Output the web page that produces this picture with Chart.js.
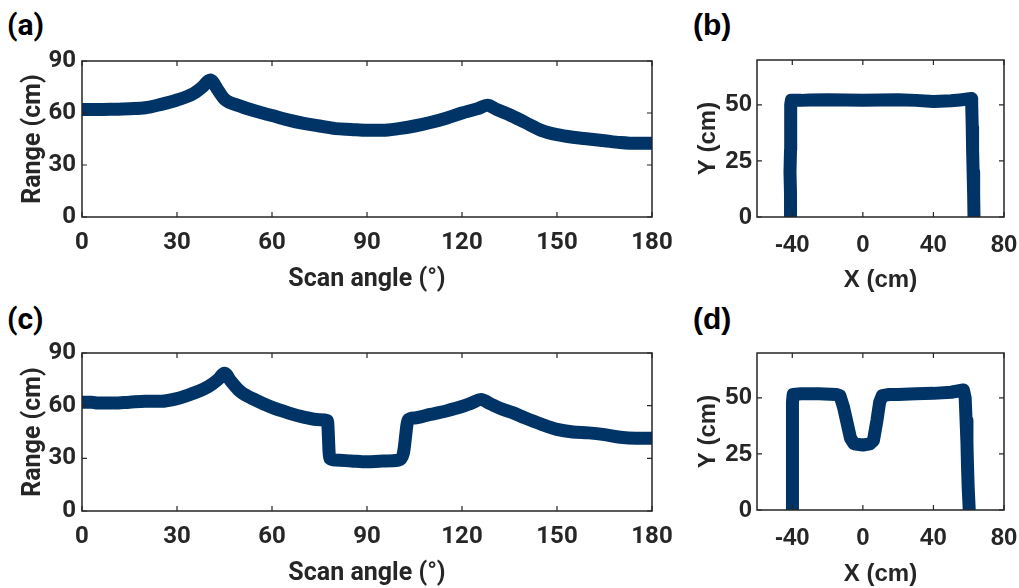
<!DOCTYPE html>
<html>
<head>
<meta charset="utf-8">
<script src="https://cdn.jsdelivr.net/npm/chart.js@4/dist/chart.umd.min.js"></script>
<style>
  html, body { margin: 0; padding: 0; background: #fff; }
  body { width: 1019px; height: 588px; position: relative; overflow: hidden; }
  .panel { position: absolute; }
  .tag { position: absolute; font-weight: bold; color: #000; font-size: 30px; line-height: 1; }
  .tagL { font-family: Roboto, sans-serif; }
  .tagR { font-family: "Liberation Sans", Arial, sans-serif; }
</style>
</head>
<body>
<div class="tag tagL" style="left:7px; top:10px;">(a)</div>
<div class="tag tagR" style="left:693px; top:10px;">(b)</div>
<div class="tag tagL" style="left:7px; top:304px;">(c)</div>
<div class="tag tagR" style="left:693px; top:304px;">(d)</div>

<!-- canvases are wider than their slot so the edge tick labels get room; body clips the overflow -->
<div class="panel" style="left:0; top:0; width:690px; height:294px;"><canvas id="chartA"></canvas></div>
<div class="panel" style="left:680px; top:0; width:360px; height:294px;"><canvas id="chartB"></canvas></div>
<div class="panel" style="left:0; top:294px; width:690px; height:294px;"><canvas id="chartC"></canvas></div>
<div class="panel" style="left:680px; top:294px; width:360px; height:294px;"><canvas id="chartD"></canvas></div>

<script>
// (a) range vs scan angle, empty scene
const angleA = [0, 5, 10, 15, 20, 25, 30, 35, 38, 40.5, 43, 45, 50, 55, 60, 65, 70, 75, 80, 85, 90,
                95, 100, 105, 110, 115, 120, 125, 128, 131, 135, 140, 145, 150, 155, 160, 165, 170, 175, 180];
const rangeA = [62, 62, 62.2, 62.5, 63, 65, 67.5, 71, 75, 79, 73, 68, 64, 61, 58.5, 56, 54, 52.5, 51, 50.5, 50,
                50, 51, 52.5, 54.5, 57, 60, 62.5, 64.5, 62, 59, 54.5, 50, 47.5, 46, 45, 44, 43, 42.5, 42.5];

// (c) range vs scan angle, with object in the middle
const angleC = [0, 3, 5, 10, 15, 20, 25, 30, 35, 40, 43, 45, 47, 50, 55, 60, 65, 70, 75, 77.5, 78.2, 80,
                85, 90, 95, 100, 101.5, 103, 105, 110, 115, 120, 123, 126, 129, 132, 136, 140, 145, 150,
                155, 160, 165, 170, 175, 180];
const rangeC = [62, 62, 61.5, 61.5, 62, 62.5, 62.5, 64, 67, 71, 75, 78.5, 74, 68, 63, 59, 56, 53.5, 52, 51.5, 30, 29,
                28.5, 28, 28.5, 29, 33, 52, 53, 55, 57, 59.5, 61.5, 63.5, 61, 58.5, 56, 53, 49.5, 46.5,
                45, 44.5, 43.5, 42, 41.5, 41.5];

// (b) x-y map, empty scene
const xB = [-41, -41, -41.3, -41, -41, -40.8, -40.5, -35, -30, -20, -10, 0, 10, 20, 30, 40, 50, 55, 61.5,
            61.7, 62, 62.2, 62.5, 62.8, 63];
const yB = [0, 10, 20, 30, 40, 50, 52, 52, 52.2, 52.3, 52.2, 52, 52.2, 52.3, 52, 51.5, 51.8, 52.2, 52.8,
            50, 40, 30, 20, 10, 0];

// (d) x-y map, with object
const xD = [-40, -40, -40, -40, -39.8, -39.7, -39.5, -35, -25, -15, -13, -11, -9, -7, -5, 0, 4, 6, 8, 9.5, 11,
            15, 20, 30, 40, 50, 57, 58, 58.5, 59, 59.3, 59.7, 60.3];
const yD = [0, 10, 20, 30, 40, 48, 51.5, 51.8, 51.8, 51.5, 51, 46, 39, 32, 29.5, 29, 29.5, 31, 40, 48, 51,
            51.5, 51.5, 51.8, 52, 52.5, 53.5, 50, 40, 30, 20, 10, 0];

const angleTicks = [0, 30, 60, 90, 120, 150, 180];
const rangeTicks = [0, 30, 60, 90];
const xTicks = [-40, 0, 40, 80];
const yTicks = [0, 25, 50];

const inkColor = '#262626';
const dataColor = '#003366';

function toPoints(xs, ys) {
    return xs.map((x, i) => ({x: x, y: ys[i]}));
}

// box around the plot plus inward tick marks on all four sides
const boxPlugin = {
    id: 'box',
    afterDatasetsDraw(chart) {
        const {ctx, chartArea: a, scales} = chart;
        ctx.save();
        ctx.strokeStyle = inkColor;
        ctx.lineWidth = 1.5;
        ctx.strokeRect(a.left, a.top, a.right - a.left, a.bottom - a.top);
        ctx.lineWidth = 1.2;
        ctx.beginPath();
        scales.x.ticks.forEach(t => {
            const px = scales.x.getPixelForValue(t.value);
            ctx.moveTo(px, a.bottom); ctx.lineTo(px, a.bottom - 5);
            ctx.moveTo(px, a.top); ctx.lineTo(px, a.top + 5);
        });
        scales.y.ticks.forEach(t => {
            const py = scales.y.getPixelForValue(t.value);
            ctx.moveTo(a.left, py); ctx.lineTo(a.left + 5, py);
            ctx.moveTo(a.right, py); ctx.lineTo(a.right - 5, py);
        });
        ctx.stroke();
        ctx.restore();
    }
};

function makeChart(id, points, opt) {
    const ctx = document.getElementById(id).getContext('2d');
    return new Chart(ctx, {
        type: 'scatter',
        data: {
            datasets: [{
                data: points,
                showLine: true,
                borderColor: dataColor,
                backgroundColor: dataColor,
                borderWidth: 13,
                borderCapStyle: 'round',
                borderJoinStyle: 'round',
                pointRadius: 0,
                cubicInterpolationMode: opt.smooth ? 'monotone' : 'default',
                tension: 0
            }]
        },
        options: {
            responsive: true,
            maintainAspectRatio: false,
            animation: false,
            events: [],
            layout: {
                padding: {left: 0, right: opt.padRight, top: opt.padTop, bottom: 0}
            },
            plugins: {
                legend: {display: false},
                tooltip: {enabled: false}
            },
            scales: {
                x: {
                    type: 'linear',
                    min: opt.xMin,
                    max: opt.xMax,
                    afterBuildTicks: s => { s.ticks = opt.xTicks.map(v => ({value: v})); },
                    afterFit: s => { s.height = opt.xAxisHeight; },
                    grid: {display: false, drawTicks: false},
                    border: {display: false},
                    ticks: {
                        color: inkColor,
                        padding: opt.xTickPad,
                        maxRotation: 0,
                        font: {family: opt.font, weight: 'bold', size: opt.tickSize}
                    },
                    title: {
                        display: true,
                        text: opt.xTitle,
                        color: inkColor,
                        padding: {top: 0, bottom: opt.xTitlePad},
                        font: {family: opt.font, weight: 'bold', size: opt.titleSize, lineHeight: 1}
                    }
                },
                y: {
                    type: 'linear',
                    min: opt.yMin,
                    max: opt.yMax,
                    afterBuildTicks: s => { s.ticks = opt.yTicks.map(v => ({value: v})); },
                    afterFit: s => { s.width = opt.yAxisWidth; },
                    grid: {display: false, drawTicks: false},
                    border: {display: false},
                    ticks: {
                        color: inkColor,
                        padding: opt.yTickPad,
                        font: {family: opt.font, weight: 'bold', size: opt.tickSize}
                    },
                    title: {
                        display: true,
                        text: opt.yTitle,
                        color: inkColor,
                        padding: {top: opt.yTitlePad, bottom: 0},
                        font: {family: opt.font, weight: 'bold', size: opt.titleSize, lineHeight: 1}
                    }
                }
            }
        },
        plugins: [boxPlugin]
    });
}

const leftOpt = {
    font: 'Roboto', tickSize: 24, titleSize: 25, smooth: true,
    xMin: 0, xMax: 180, yMin: 0, yMax: 90, xTicks: angleTicks, yTicks: rangeTicks,
    xTitle: 'Scan angle (°)', yTitle: 'Range (cm)',
    padRight: 38, yAxisWidth: 82, xAxisHeight: 77,
    xTickPad: 12, yTickPad: 6, xTitlePad: 2, yTitlePad: 21
};
const rightOpt = {
    font: '"Liberation Sans", Arial, sans-serif', tickSize: 24, titleSize: 24, smooth: false,
    xMin: -60, xMax: 80, yMin: 0, yMax: 70, xTicks: xTicks, yTicks: yTicks,
    xTitle: 'X (cm)', yTitle: 'Y (cm)',
    padRight: 36, yAxisWidth: 77, xAxisHeight: 77,
    xTickPad: 14, yTickPad: 5, xTitlePad: 2, yTitlePad: 16
};

makeChart('chartA', toPoints(angleA, rangeA), Object.assign({}, leftOpt, {padTop: 61}));
makeChart('chartC', toPoints(angleC, rangeC), Object.assign({}, leftOpt, {padTop: 59}));
makeChart('chartB', toPoints(xB, yB), Object.assign({}, rightOpt, {padTop: 60}));
makeChart('chartD', toPoints(xD, yD), Object.assign({}, rightOpt, {padTop: 59, xAxisHeight: 78}));
</script>
</body>
</html>
